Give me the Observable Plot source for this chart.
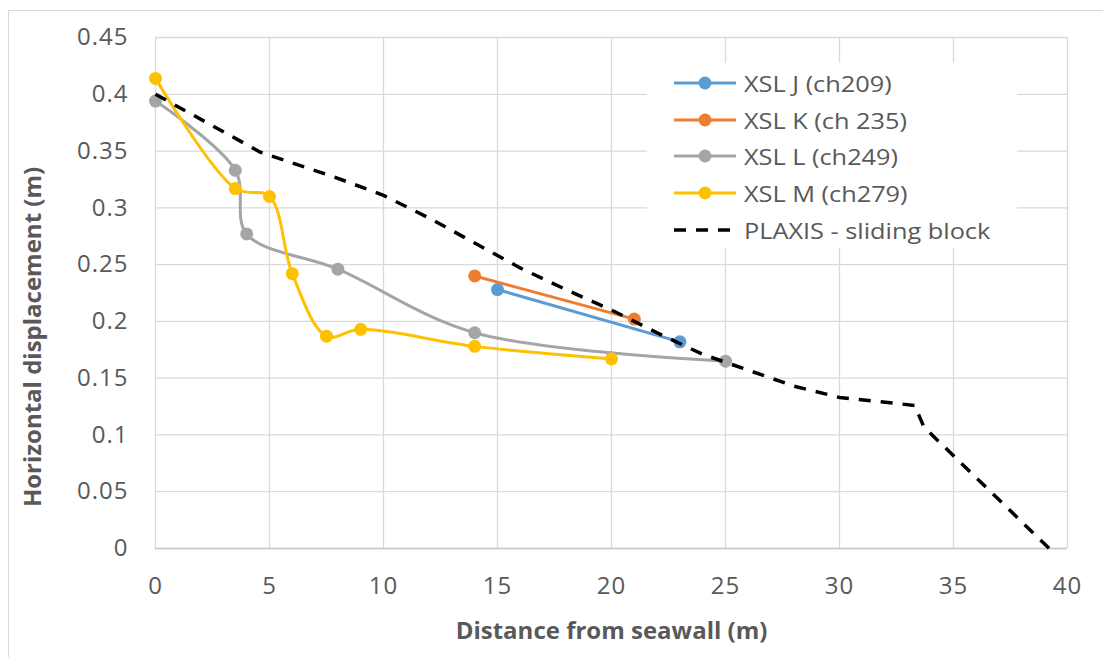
<!DOCTYPE html>
<html>
<head>
<meta charset="utf-8">
<script src="https://cdn.jsdelivr.net/npm/d3@7"></script>
<script src="https://cdn.jsdelivr.net/npm/@observablehq/plot@0.6"></script>
<style>
  body { margin: 0; background: #fff; font-family: "Open Sans", sans-serif; }
  #wrap { position: relative; width: 1103px; height: 657px; overflow: hidden; background: #fff; }
  #frame { position: absolute; left: 8px; top: 10px; width: 1200px; height: 800px; border: 1.5px solid #d9d9d9; box-sizing: border-box; pointer-events: none; }
  #chart { position: absolute; left: 0; top: 0; }
  #chart svg [aria-label$="tick label"] text { letter-spacing: 1px; }
  #legend { position: absolute; left: 647px; top: 63px; width: 370px; height: 185px; background: #fff; }
  .item { position: absolute; left: 25px; height: 30px; display: flex; align-items: center; }
  .item span { display: inline-block; font-size: 22px; color: #595959; margin-left: 6px; white-space: nowrap; transform: scaleX(1.15); transform-origin: left center; }
</style>
</head>
<body>
<div id="wrap">
  <div id="frame"></div>
  <div id="chart"></div>
  <div id="legend"></div>
</div>
<script>
// ---- data ----
const seriesNames = ["XSL J (ch209)", "XSL K (ch 235)", "XSL L (ch249)", "XSL M (ch279)", "PLAXIS - sliding block"];
const seriesColors = ["#5B9BD5", "#ED7D31", "#A5A5A5", "#FFC000", "#000000"];

const xslJ_x = [15, 23];
const xslJ_y = [0.228, 0.182];

const xslK_x = [14, 21];
const xslK_y = [0.240, 0.202];

const xslL_x = [0, 3.5, 4, 8, 14, 25];
const xslL_y = [0.394, 0.333, 0.277, 0.246, 0.190, 0.165];

const xslM_x = [0, 3.5, 5, 6, 7.5, 9, 14, 20];
const xslM_y = [0.414, 0.317, 0.310, 0.242, 0.187, 0.193, 0.178, 0.167];

const plaxis_x = [0, 4.6, 8, 10, 12, 14, 16, 18, 20, 22, 24, 25, 26, 28, 30, 33.3, 33.7, 39.2];
const plaxis_y = [0.400, 0.349, 0.326, 0.311, 0.291, 0.269, 0.247, 0.228, 0.210, 0.190, 0.171, 0.164, 0.157, 0.143, 0.133, 0.126, 0.107, 0.0];

const xTicks = [0, 5, 10, 15, 20, 25, 30, 35, 40];
const yTicks = [0, 0.05, 0.1, 0.15, 0.2, 0.25, 0.3, 0.35, 0.4, 0.45];

const xTitle = "Distance from seawall (m)";
const yTitle = "Horizontal displacement (m)";

// ---- build rows ----
function rows(name, xs, ys) { return xs.map((x, i) => ({series: name, x, y: ys[i]})); }
const measured = [
  rows(seriesNames[0], xslJ_x, xslJ_y),
  rows(seriesNames[1], xslK_x, xslK_y),
  rows(seriesNames[2], xslL_x, xslL_y),
  rows(seriesNames[3], xslM_x, xslM_y)
];
const plaxis = rows(seriesNames[4], plaxis_x, plaxis_y);

const marks = [
  Plot.gridX(xTicks, {stroke: "#d9d9d9", strokeOpacity: 1, strokeWidth: 1.3}),
  Plot.gridY(yTicks, {stroke: "#d9d9d9", strokeOpacity: 1, strokeWidth: 1.3}),
  Plot.ruleY([0], {stroke: "#c8c8c8", strokeWidth: 1.5}),
  Plot.axisX({ticks: xTicks, tickSize: 0, tickPadding: 28, label: null, fill: "#595959", fontSize: 24}),
  Plot.axisY({ticks: yTicks, tickSize: 0, tickPadding: 27, label: null, tickFormat: d => String(d), fill: "#595959", fontSize: 24}),
];
measured.forEach((data, i) => {
  marks.push(Plot.line(data, {x: "x", y: "y", stroke: seriesColors[i], strokeWidth: 3, curve: "catmull-rom"}));
  marks.push(Plot.dot(data, {x: "x", y: "y", fill: seriesColors[i], r: 6.5, stroke: "none"}));
});
marks.push(Plot.line(plaxis, {x: "x", y: "y", stroke: seriesColors[4], strokeWidth: 3.5, strokeDasharray: "12,10", strokeLinecap: "butt"}));
marks.push(Plot.text([xTitle], {frameAnchor: "bottom", dy: 83, lineAnchor: "middle", textAnchor: "middle", text: d => d, fontSize: 24, fontWeight: "bold", fill: "#595959"}));
marks.push(Plot.text([yTitle], {frameAnchor: "left", dx: -122, dy: 44, rotate: -90, lineAnchor: "middle", textAnchor: "middle", text: d => d, fontSize: 24, fontWeight: "bold", fill: "#595959"}));

const chart = Plot.plot({
  width: 1103,
  height: 657,
  marginLeft: 155,
  marginRight: 36,
  marginTop: 37,
  marginBottom: 109,
  x: {domain: [0, 40]},
  y: {domain: [0, 0.45]},
  style: {fontFamily: "'Open Sans', sans-serif", fontSize: "24px", color: "#595959", background: "transparent", overflow: "visible"},
  marks
});
document.getElementById("chart").appendChild(chart);

// ---- legend ----
const legend = document.getElementById("legend");
seriesNames.forEach((name, i) => {
  const item = document.createElement("div");
  item.className = "item";
  item.style.top = (5 + i * 36.7) + "px";
  const dashed = i === 4;
  item.innerHTML = `<svg width="66" height="20" viewBox="0 0 66 20">
    <line x1="2" y1="10" x2="64" y2="10" stroke="${seriesColors[i]}" stroke-width="${dashed ? 3.5 : 3}" ${dashed ? 'stroke-dasharray="12,10"' : ''}/>
    ${dashed ? '' : `<circle cx="33" cy="10" r="6.5" fill="${seriesColors[i]}"/>`}
  </svg><span>${name}</span>`;
  legend.appendChild(item);
});
</script>
</body>
</html>
